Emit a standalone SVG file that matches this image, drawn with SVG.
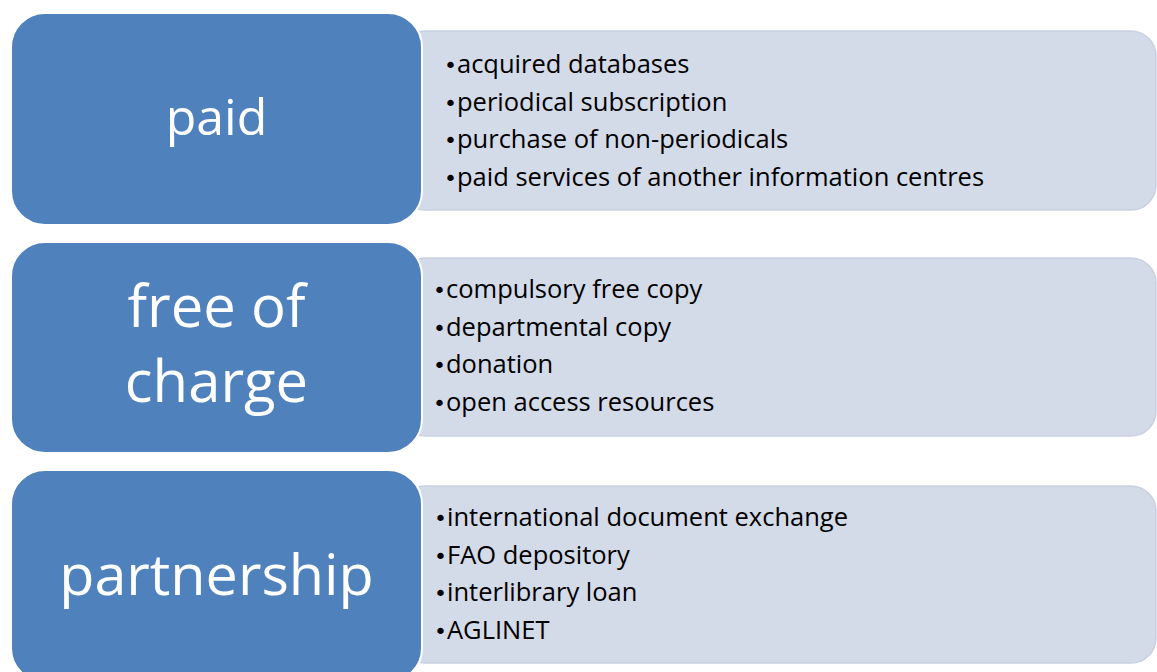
<svg xmlns="http://www.w3.org/2000/svg" width="1157" height="672" viewBox="0 0 1157 672">
<style>
.cat{fill:#4f81bd;stroke:#ffffff;stroke-width:2}
.list{fill:#d3dae8;stroke:#c9d1e1;stroke-width:1.5}
.big{font-family:"Open Sans","Noto Sans",sans-serif;fill:#ffffff;text-anchor:middle}
.item{font-family:"Open Sans","Noto Sans",sans-serif;font-size:25.5px;fill:#000000}
.b{font-family:"DejaVu Sans",sans-serif;font-size:22px}
</style>
<rect width="1157" height="672" fill="#ffffff"/>
<g id="list-paid">
<rect class="list" x="400" y="31" width="756" height="179" rx="25"/>
<text class="item" x="444" y="73"><tspan class="b">•</tspan>acquired databases</text>
<text class="item" x="444" y="110.5"><tspan class="b">•</tspan>periodical subscription</text>
<text class="item" x="444" y="148"><tspan class="b">•</tspan>purchase of non-periodicals</text>
<text class="item" x="444" y="185.5"><tspan class="b">•</tspan>paid services of another information centres</text>
</g>
<g id="cat-paid">
<rect class="cat" x="11" y="13" width="411" height="212" rx="34"/>
<text class="big" x="216.5" y="135" font-size="50">paid</text>
</g>
<g id="list-free">
<rect class="list" x="400" y="258" width="756" height="178" rx="25"/>
<text class="item" x="433" y="298"><tspan class="b">•</tspan>compulsory free copy</text>
<text class="item" x="433" y="335.5"><tspan class="b">•</tspan>departmental copy</text>
<text class="item" x="433" y="373"><tspan class="b">•</tspan>donation</text>
<text class="item" x="433" y="410.5"><tspan class="b">•</tspan>open access resources</text>
</g>
<g id="cat-free">
<rect class="cat" x="11" y="242" width="411" height="211" rx="34"/>
<text class="big" x="216.5" y="327" font-size="58">free of</text>
<text class="big" x="216.5" y="402" font-size="58">charge</text>
</g>
<g id="list-partnership">
<rect class="list" x="400" y="486" width="756" height="177" rx="25"/>
<text class="item" x="434" y="526"><tspan class="b">•</tspan>international document exchange</text>
<text class="item" x="434" y="563.5"><tspan class="b">•</tspan>FAO depository</text>
<text class="item" x="434" y="601"><tspan class="b">•</tspan>interlibrary loan</text>
<text class="item" x="434" y="638.5"><tspan class="b">•</tspan>AGLINET</text>
</g>
<g id="cat-partnership">
<rect class="cat" x="11" y="470" width="411" height="212" rx="34"/>
<text class="big" x="216.5" y="595" font-size="57.5">partnership</text>
</g>
</svg>
